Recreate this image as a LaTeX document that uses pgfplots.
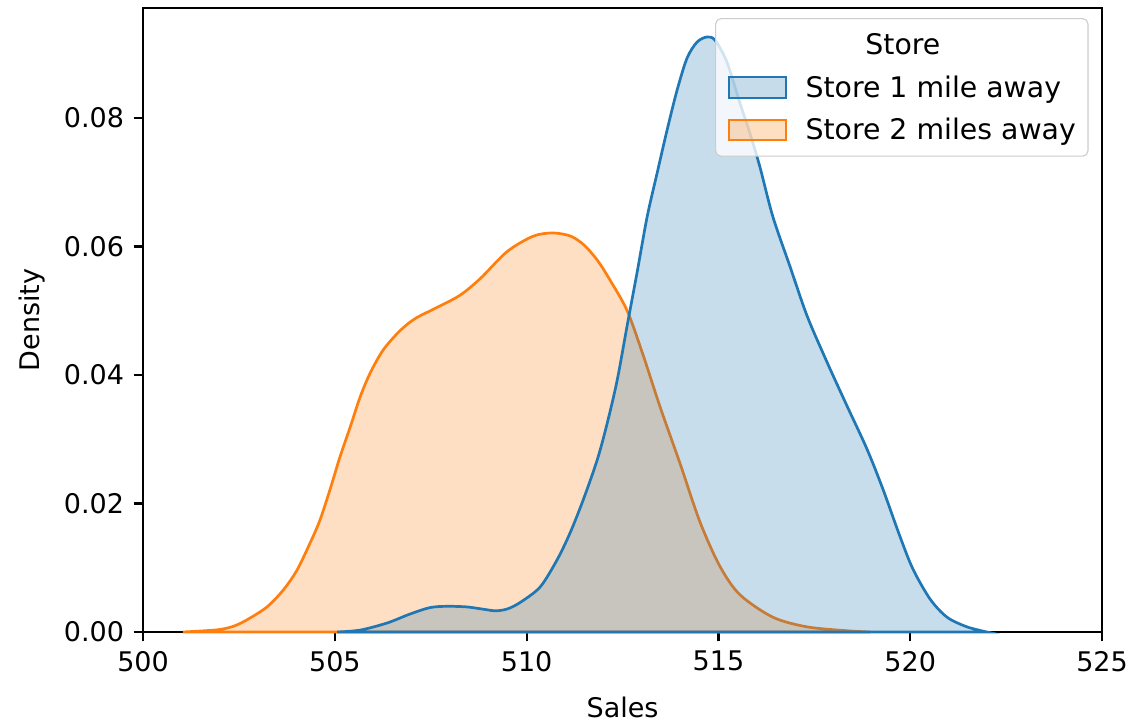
\documentclass[border=0pt]{standalone}
\usepackage{fontspec}
\setmainfont{DejaVu Sans}
\usepackage{pgfplots}
\pgfplotsset{compat=1.18}
\definecolor{c0}{HTML}{1F77B4}
\definecolor{c1}{HTML}{FF7F0E}
\newcommand{\legfont}{\fontsize{10.5}{12.6}\selectfont}
\newlength{\legtextw}
\settowidth{\legtextw}{\legfont Store 2 miles away}
\newlength{\legoff}
\setlength{\legoff}{28pt}

% KDE curves of daily sales, one table per store
\pgfplotstableread{
x y
501.04 0.0000
501.62 0.0002
502.01 0.0004
502.36 0.0009
502.71 0.0019
503.23 0.0039
503.65 0.0065
504.01 0.0096
504.35 0.0138
504.61 0.0174
504.87 0.0221
505.13 0.0272
505.40 0.0319
505.66 0.0366
505.92 0.0403
506.26 0.0439
506.70 0.0469
507.10 0.0488
507.66 0.0505
508.26 0.0524
508.79 0.0550
509.49 0.0592
510.17 0.0616
510.69 0.0621
511.15 0.0616
511.50 0.0602
511.85 0.0578
512.17 0.0548
512.62 0.0500
513.03 0.0432
513.48 0.0350
514.00 0.0262
514.52 0.0171
515.04 0.0102
515.56 0.0058
516.42 0.0023
517.31 0.0008
518.35 0.0002
518.95 0.0000
}\storetwo

\pgfplotstableread{
x y
505.06 0.0000
505.66 0.0003
506.36 0.0014
506.96 0.0028
507.48 0.0038
507.92 0.0040
508.45 0.0039
508.92 0.0035
509.20 0.0033
509.50 0.0036
509.83 0.0046
510.35 0.0070
510.79 0.0112
511.13 0.0154
511.47 0.0205
511.84 0.0268
512.10 0.0325
512.36 0.0392
512.62 0.0477
512.88 0.0560
513.14 0.0646
513.40 0.0714
513.66 0.0781
513.92 0.0843
514.18 0.0893
514.44 0.0918
514.70 0.0926
514.91 0.0921
515.22 0.0887
515.56 0.0823
515.82 0.0776
516.08 0.0724
516.42 0.0646
516.87 0.0568
517.31 0.0492
517.83 0.0420
518.35 0.0352
518.87 0.0285
519.29 0.0222
519.73 0.0149
520.07 0.0098
520.52 0.0051
520.96 0.0023
521.48 0.0008
522.00 0.0000
}\storeone

\begin{document}
\begin{tikzpicture}
\path[use as bounding box] (-53pt,-33.7pt) rectangle (366.3pt,234.1pt);
\begin{axis}[
  at={(0,0)}, anchor=south west,
  scale only axis, width=355.2pt, height=231.1pt,
  xmin=500, xmax=525, ymin=0, ymax=0.0971,
  xtick={500,505,...,525},
  ytick={0,0.02,0.04,0.06,0.08},
  scaled y ticks=false, scaled x ticks=false,
  /pgf/number format/assume math mode=true,
  yticklabel style={/pgf/number format/fixed, /pgf/number format/fixed zerofill, /pgf/number format/precision=2},
  xticklabel style={/pgf/number format/fixed, /pgf/number format/precision=0, /pgf/number format/1000 sep={}},
  tick align=outside, major tick length=3.5pt,
  tick style={black, line width=0.8pt},
  axis line style={black, line width=0.8pt},
  xtick pos=bottom, ytick pos=left,
  xlabel={Sales}, ylabel={Density},
  xlabel style={yshift=-2.5pt},
  every tick label/.append style={font=\fontsize{10}{12}\selectfont},
  label style={font=\fontsize{10}{12}\selectfont},
  clip=false,
  legend image code/.code={\draw[#1, sharp corners] (0pt,-3.8pt) rectangle (21pt,3.8pt);},
  legend cell align=left,
  legend style={
    at={(rel axis cs:1,1)}, anchor=north east, xshift=-5pt, yshift=-3.7pt,
    draw=black!20, fill=white, fill opacity=0.8, text opacity=1,
    rounded corners=2pt, inner sep=4.5pt,
    nodes={inner sep=0pt}, column sep=7pt, row sep=5.5pt,
    font=\legfont,
  },
]
\addplot[draw=c1, line width=1pt, fill=c1, fill opacity=0.25, smooth, forget plot]
  table[x=x, y=y] {\storetwo} \closedcycle;
\addplot[draw=c0, line width=1pt, fill=c0, fill opacity=0.25, smooth, forget plot]
  table[x=x, y=y] {\storeone} \closedcycle;

\addlegendimage{empty legend}
\addlegendentry{\strut\hspace*{-\legoff}\makebox[\dimexpr\legtextw+\legoff\relax][c]{Store}}
\addlegendimage{draw=c0, line width=0.8pt, fill=c0, fill opacity=0.25}
\addlegendentry{\strut Store 1 mile away}
\addlegendimage{draw=c1, line width=0.8pt, fill=c1, fill opacity=0.25}
\addlegendentry{\strut Store 2 miles away}
\end{axis}
\end{tikzpicture}
\end{document}
